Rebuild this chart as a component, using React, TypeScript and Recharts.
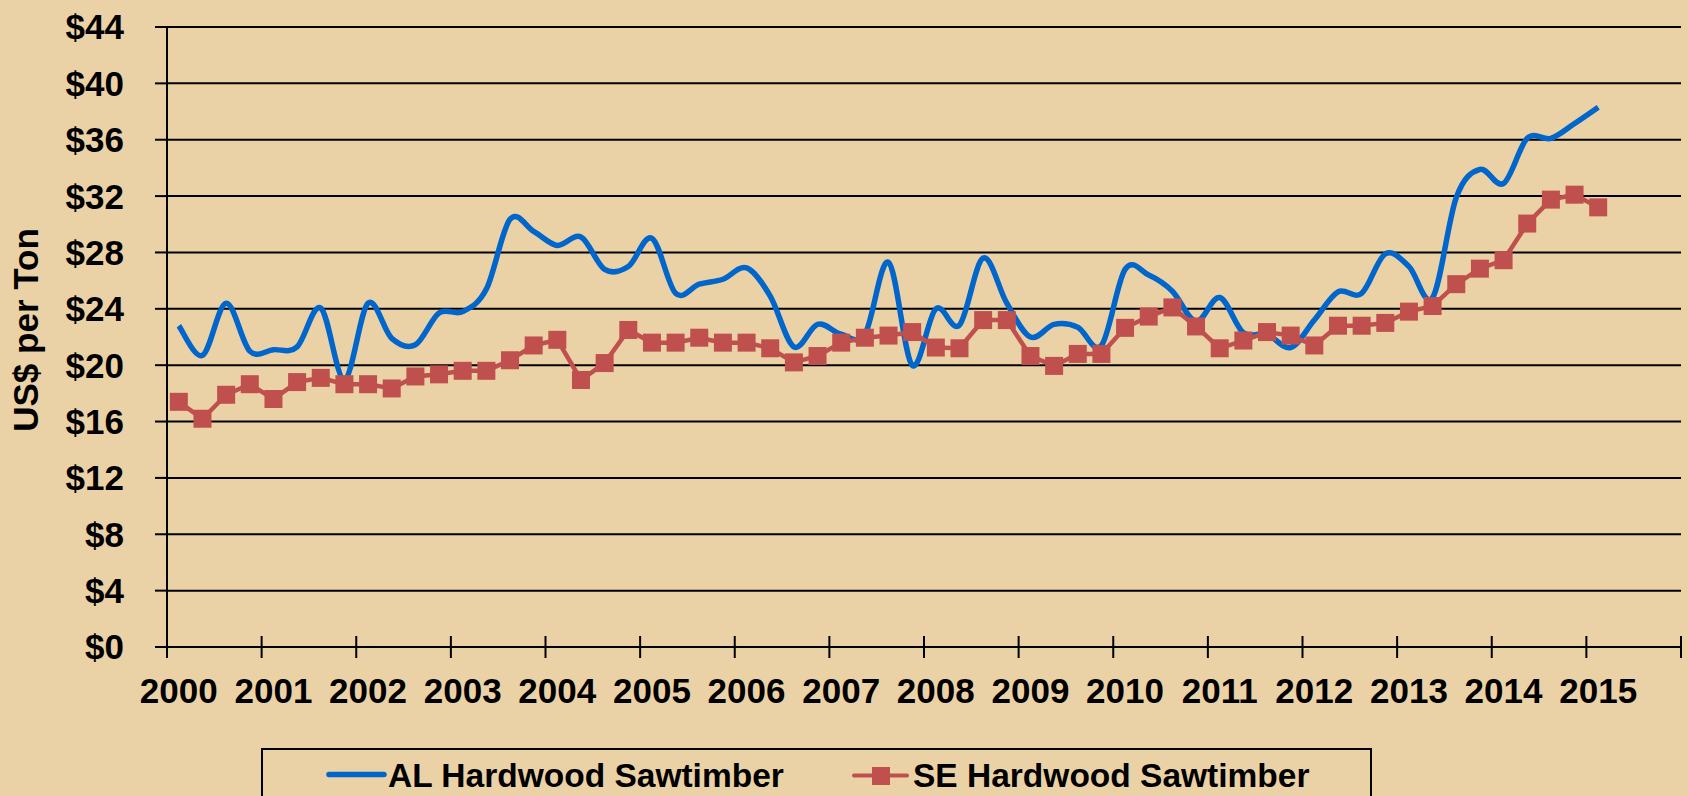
import React from "react";
import { LineChart, Line, XAxis, YAxis, CartesianGrid, Legend } from "recharts";

const FONT = '"Liberation Sans", Arial, Helvetica, sans-serif';

// year labels, one per 4 quarters
const years = [
  "2000", "2001", "2002", "2003", "2004", "2005", "2006", "2007",
  "2008", "2009", "2010", "2011", "2012", "2013", "2014", "2015",
];

// quarterly prices, 2000 Q1 .. 2015 Q1 (US$ per ton)
const alHardwood = [
  22.8, 20.7, 24.4, 21.0, 21.1, 21.3, 24.05, 19.0,
  24.4, 21.9, 21.45, 23.7, 23.8, 25.4, 30.35, 29.5,
  28.5, 29.1, 26.8, 27.0, 29.0, 25.1, 25.75, 26.1,
  26.9, 24.9, 21.3, 22.9, 22.2, 22.2, 27.3, 20.0,
  24.0, 22.85, 27.6, 24.4, 22.0, 22.9, 22.7, 21.4,
  26.8, 26.4, 25.25, 23.1, 24.8, 22.3, 22.2, 21.25,
  23.2, 25.2, 25.1, 27.9, 27.0, 24.8, 31.9, 33.9,
  32.9, 36.1, 36.1, 37.15, 38.3,
];

const seHardwood = [
  17.4, 16.2, 17.9, 18.65, 17.6, 18.8, 19.1, 18.65,
  18.65, 18.35, 19.2, 19.35, 19.6, 19.6, 20.35, 21.4,
  21.8, 18.95, 20.15, 22.5, 21.6, 21.6, 21.95, 21.6,
  21.6, 21.2, 20.2, 20.65, 21.6, 21.95, 22.1, 22.35,
  21.25, 21.2, 23.2, 23.2, 20.65, 19.95, 20.8, 20.8,
  22.65, 23.45, 24.1, 22.75, 21.2, 21.75, 22.35, 22.1,
  21.4, 22.8, 22.8, 23.0, 23.8, 24.2, 25.75, 26.85,
  27.45, 30.05, 31.75, 32.1, 31.2,
];

const yTicks = [0, 4, 8, 12, 16, 20, 24, 28, 32, 36, 40, 44];

const rows = alHardwood.map((al, i) => ({ q: i, al, se: seHardwood[i] }));
// tick marks sit between quarters: one before each year, plus the closing one
const yearTicks = [...years, ""].map((_, i) => i * 4 - 0.5);

// Excel-style smoothed line (uniform Catmull-Rom as cubic Beziers)
function excelSmooth(context: any) {
  let pts: number[][] = [];
  return {
    areaStart() {},
    areaEnd() {},
    lineStart() {
      pts = [];
    },
    point(x: number, y: number) {
      pts.push([+x, +y]);
    },
    lineEnd() {
      const n = pts.length;
      if (!n) return;
      context.moveTo(pts[0][0], pts[0][1]);
      for (let i = 0; i < n - 1; i++) {
        const p0 = pts[i - 1] || pts[i];
        const p1 = pts[i];
        const p2 = pts[i + 1];
        const p3 = pts[i + 2] || p2;
        context.bezierCurveTo(
          p1[0] + (p2[0] - p0[0]) / 6,
          p1[1] + (p2[1] - p0[1]) / 6,
          p2[0] - (p3[0] - p1[0]) / 6,
          p2[1] - (p3[1] - p1[1]) / 6,
          p2[0],
          p2[1]
        );
      }
    },
  };
}

function YearTick(props: any) {
  const { x, y, payload } = props;
  const label = years[(payload.value + 0.5) / 4] ?? "";
  return (
    <g>
      <line x1={x} x2={x} y1={y - 11} y2={y + 11} stroke="#000" strokeWidth={2} />
      {label && (
        <text
          x={x + 11.8}
          y={y + 56}
          textAnchor="middle"
          fontFamily={FONT}
          fontSize={35}
          fontWeight="bold"
          fill="#000"
        >
          {label}
        </text>
      )}
    </g>
  );
}

function SquareDot(props: any) {
  const { cx, cy, index } = props;
  if (cx == null || cy == null) return <g key={`sq-${index}`} />;
  return (
    <rect key={`sq-${index}`} x={cx - 9} y={cy - 9} width={18} height={18} fill="#C0504D" />
  );
}

function YTitle(props: any) {
  const vb = props.viewBox || { y: 27, height: 620 };
  const cy = vb.y + vb.height / 2 - 7;
  return (
    <text
      transform={`translate(38, ${cy}) rotate(-90)`}
      textAnchor="middle"
      fontFamily={FONT}
      fontSize={35}
      fontWeight="bold"
      fill="#000"
    >
      US$ per Ton
    </text>
  );
}

function LegendBox(props: any) {
  const items = props.payload || [];
  const al = items.find((p: any) => p.dataKey === "al");
  const se = items.find((p: any) => p.dataKey === "se");
  const textStyle = { fontFamily: FONT, fontSize: 33.5, fontWeight: "bold" as const };
  return (
    <svg width={1112} height={60} style={{ display: "block" }}>
      <rect x={1} y={1} width={1109} height={80} fill="none" stroke="#000" strokeWidth={2} />
      <line x1={68} x2={123} y1={26.5} y2={26.5} stroke="#0066CC" strokeWidth={5.5} strokeLinecap="round" />
      <text x={127} y={39} fill="#000" {...textStyle}>
        {al ? al.value : "AL Hardwood Sawtimber"}
      </text>
      <line x1={593} x2={646} y1={27.5} y2={27.5} stroke="#C0504D" strokeWidth={4} strokeLinecap="round" />
      <rect x={611} y={19} width={18} height={18} fill="#C0504D" />
      <text x={652} y={39} fill="#000" {...textStyle}>
        {se ? se.value : "SE Hardwood Sawtimber"}
      </text>
    </svg>
  );
}

export default function App() {
  return (
    <div
      style={{
        position: "absolute",
        left: 0,
        top: 0,
        width: 1688,
        height: 796,
        overflow: "hidden",
        background: "#EBD2A6",
      }}
    >
      <LineChart
        width={1688}
        height={796}
        data={rows}
        margin={{ top: 27, right: 7, bottom: 0, left: 0 }}
      >
        <CartesianGrid vertical={false} stroke="#000" strokeWidth={2} />
        <XAxis
          type="number"
          dataKey="q"
          domain={[-0.5, 63.5]}
          ticks={yearTicks}
          interval={0}
          height={149}
          axisLine={{ stroke: "#000", strokeWidth: 2 }}
          tickLine={false}
          tickSize={0}
          tickMargin={0}
          tick={<YearTick />}
          allowDataOverflow
        />
        <YAxis
          domain={[0, 44]}
          ticks={yTicks}
          interval={0}
          width={167}
          axisLine={{ stroke: "#000", strokeWidth: 2 }}
          tickLine={{ stroke: "#000", strokeWidth: 2 }}
          tickSize={12}
          tickMargin={31}
          tickFormatter={(v: number) => `$${v}`}
          tick={{ fill: "#000", fontSize: 35, fontWeight: "bold", fontFamily: FONT }}
          label={(p: any) => <YTitle {...p} />}
        />
        <Legend
          layout="horizontal"
          verticalAlign="middle"
          align="center"
          content={<LegendBox />}
          wrapperStyle={{ left: 261, top: 748, width: 1112, height: 60 }}
        />
        <Line
          type={excelSmooth as any}
          dataKey="al"
          name="AL Hardwood Sawtimber"
          stroke="#0066CC"
          strokeWidth={5.5}
          dot={false}
          activeDot={false}
          isAnimationActive={false}
        />
        <Line
          type="linear"
          dataKey="se"
          name="SE Hardwood Sawtimber"
          stroke="#C0504D"
          strokeWidth={4.5}
          dot={(p: any) => <SquareDot key={`sq-${p.index}`} {...p} />}
          activeDot={false}
          isAnimationActive={false}
        />
      </LineChart>
    </div>
  );
}
